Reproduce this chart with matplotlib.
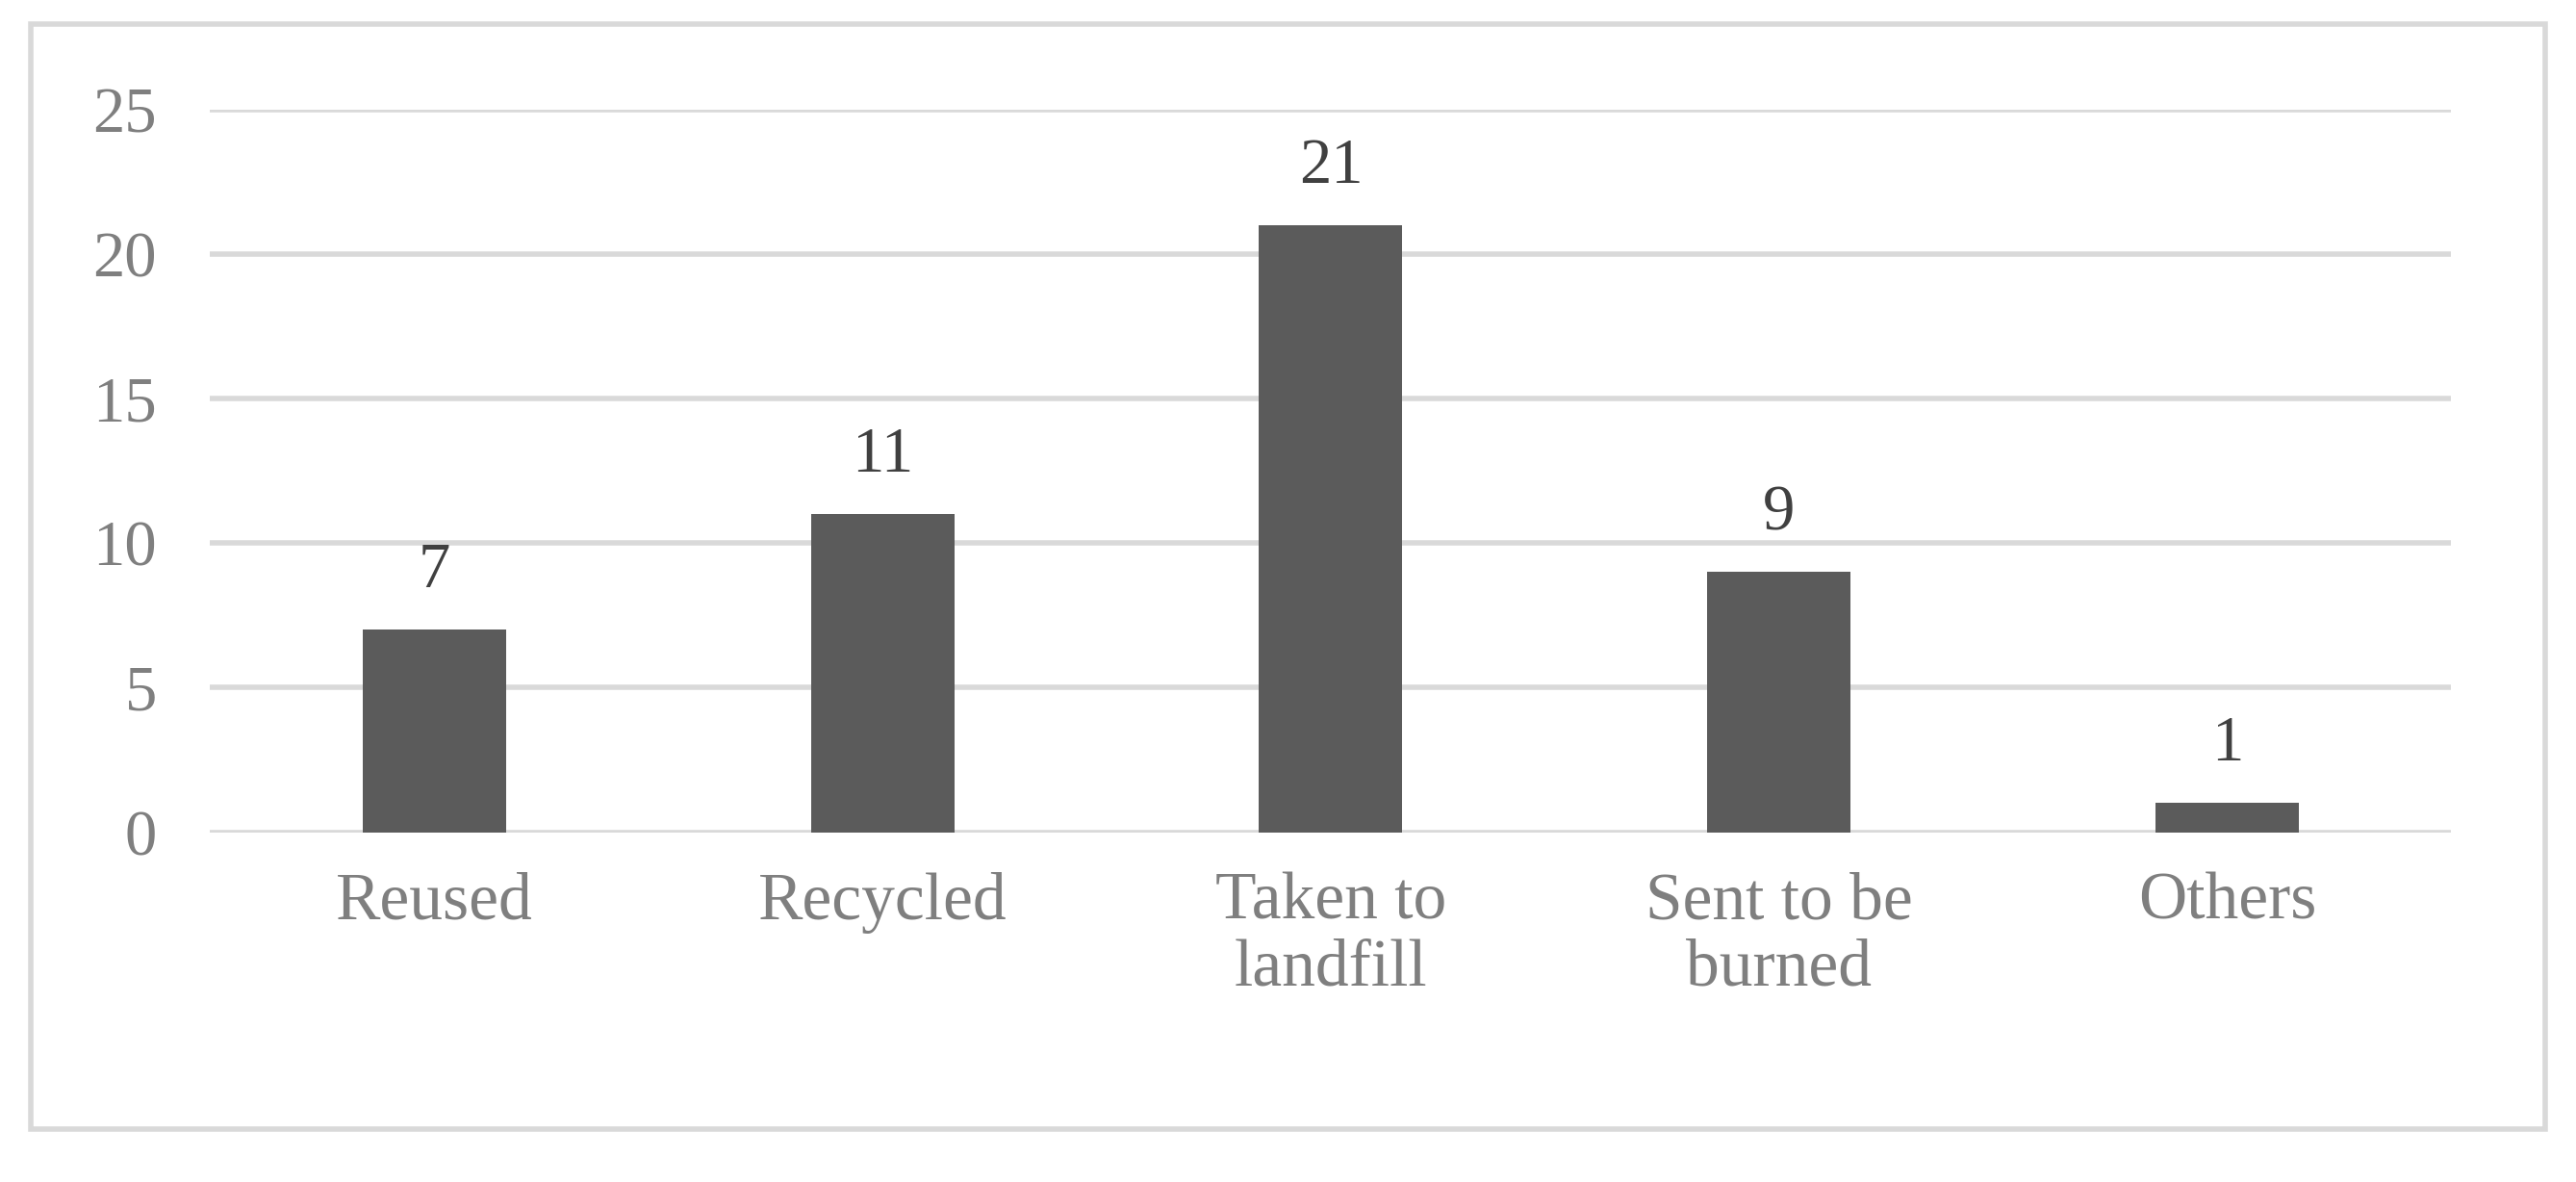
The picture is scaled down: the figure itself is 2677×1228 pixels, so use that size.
import matplotlib
matplotlib.use("Agg")
import matplotlib.pyplot as plt
from matplotlib.patches import Rectangle

categories = ["Reused", "Recycled", "Taken to\nlandfill", "Sent to be\nburned", "Others"]
values = [7, 11, 21, 9, 1]
yticks = [0, 5, 10, 15, 20, 25]

plt.rcParams['font.family'] = ['Liberation Serif', 'DejaVu Serif']
fig = plt.figure(figsize=(26.77, 12.28), dpi=100)
fig.patches.append(Rectangle((0.012, 0.045), 0.976, 0.935, transform=fig.transFigure,
                             fill=False, edgecolor='#d9d9d9', linewidth=4))
ax = fig.add_axes([0.0816, 0.296, 0.87, 0.611])
x = range(len(categories))
bars = ax.bar(x, values, width=0.32, color='#5b5b5b', zorder=3)
for xi, v in zip(x, values):
    ax.text(xi, v + 1.0, str(v), ha='center', va='bottom', fontsize=48, color='#404040')
ax.set_ylim(0, 25)
ax.set_xlim(-0.5, 4.5)
ax.set_yticks(yticks)
ax.yaxis.grid(True, color='#d9d9d9', linewidth=4, zorder=0)
ax.set_xticks(list(x))
ax.set_xticklabels(categories, fontsize=50, color='#7f7f7f', linespacing=1.1)
ax.tick_params(axis='y', labelsize=48, labelcolor='#7f7f7f', length=0, pad=40)
ax.tick_params(axis='x', length=0, pad=30)
for s in ax.spines.values():
    s.set_visible(False)
fig.savefig("out.png", dpi=100)
